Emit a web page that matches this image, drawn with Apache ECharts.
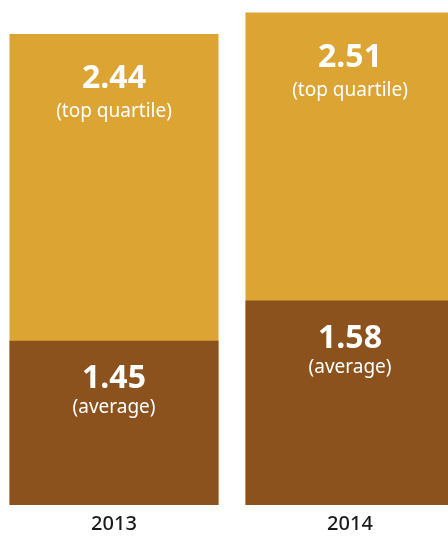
<!DOCTYPE html>
<html>
<head>
<meta charset="utf-8">
<title>Top quartile vs average</title>
<script src="https://cdn.jsdelivr.net/npm/echarts@6/dist/echarts.min.js"></script>
<style>
	html, body { margin: 0; padding: 0; background: #fff; }
	#chart { width: 448px; height: 538px; }
</style>
</head>
<body>
<div id="chart"></div>
<script>
// data
var years = ['2013', '2014'];
var topQuartile = [2.44, 2.51];
var average = [1.45, 1.58];

var chart = echarts.init(document.getElementById('chart'));

function richFor(lh) {
	return {
		v: { fontFamily: 'Noto Sans', fontWeight: 'bold', fontSize: 32, color: '#fff', lineHeight: 32 },
		t: { fontFamily: 'Noto Sans', fontSize: 19, color: '#fff', lineHeight: lh }
	};
}

var option = {
	animation: false,
	grid: { left: -4, width: 472, top: 0, bottom: 33, outerBoundsMode: 'none', containLabel: false },
	xAxis: {
		type: 'category',
		data: years,
		axisLine: { show: false },
		axisTick: { show: false },
		axisLabel: { fontFamily: 'Noto Sans', fontSize: 20, fontWeight: 500, color: '#1a1a1a', margin: 9 }
	},
	yAxis: {
		type: 'value',
		min: 0.92, // original bars are not drawn from zero
		max: 2.55,
		show: false,
		splitLine: { show: false }
	},
	series: [{
		name: 'top quartile',
		type: 'bar',
		data: topQuartile,
		barWidth: 209,
		barGap: '-100%',
		itemStyle: { color: '#DCA432' },
		label: {
			show: true,
			position: 'insideTop',
			distance: 29,
			formatter: function(p) { return '{v|' + p.value.toFixed(2) + '}\n{t|(top quartile)}'; },
			rich: richFor(34)
		}
	}, {
		name: 'average',
		type: 'bar',
		data: average,
		barWidth: 209,
		itemStyle: { color: '#8B521E' },
		label: {
			show: true,
			position: 'insideTop',
			distance: 22,
			formatter: function(p) { return '{v|' + p.value.toFixed(2) + '}\n{t|(average)}'; },
			rich: richFor(26)
		}
	}]
};

chart.setOption(option);
</script>
</body>
</html>
